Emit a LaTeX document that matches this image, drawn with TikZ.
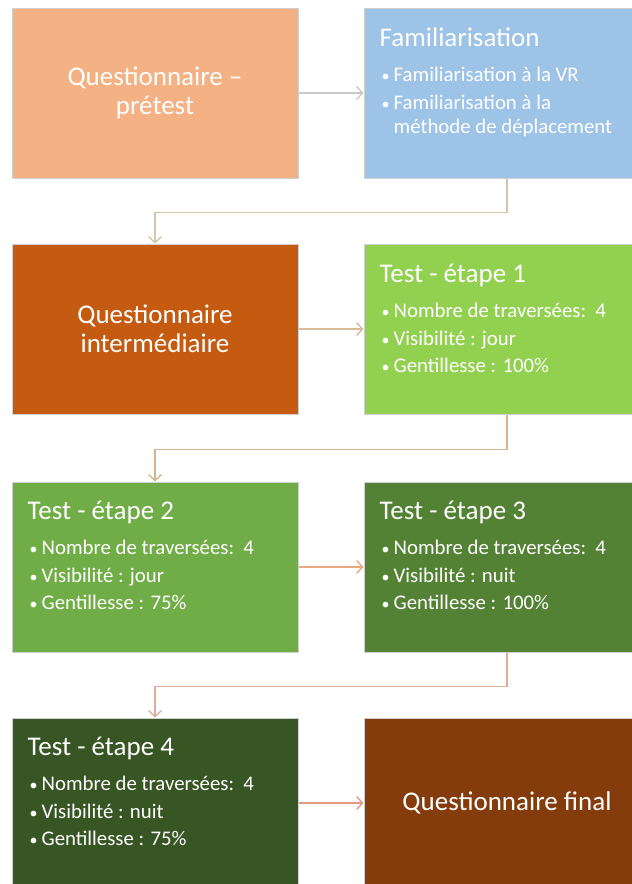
\documentclass[tikz,border=0pt]{standalone}
\usepackage{fontspec}
\setmainfont{Carlito}
\usepackage{xcolor}
\usetikzlibrary{arrows.meta}

\definecolor{boxline}{HTML}{D0D0D0}
\definecolor{peach}{HTML}{F4B183}
\definecolor{skyblue}{HTML}{9DC3E6}
\definecolor{rust}{HTML}{C55A11}
\definecolor{lime}{HTML}{92D050}
\definecolor{leaf}{HTML}{70AD47}
\definecolor{moss}{HTML}{548235}
\definecolor{forest}{HTML}{375623}
\definecolor{umber}{HTML}{843C0C}
\definecolor{arrA}{HTML}{C9C9C9}
\definecolor{arrB}{HTML}{D3C6A9}
\definecolor{arrC}{HTML}{D6BD98}
\definecolor{arrD}{HTML}{D4B48E}
\definecolor{arrE}{HTML}{E9A97E}
\definecolor{arrF}{HTML}{DEAE9A}
\definecolor{arrG}{HTML}{E39A80}

\newcommand{\itm}{{\fontsize{16}{16}\selectfont\textbullet}}

\begin{document}
\begin{tikzpicture}[x=1pt,y=-1pt,
  box/.style={rectangle,draw=boxline,line width=1pt,minimum width=286pt,minimum height=170pt,inner sep=0pt,text=white,align=center,font=\fontsize{27}{29}\selectfont},
  head/.style={text=white,font=\fontsize{27}{30}\selectfont,anchor=base west,inner sep=0pt},
  items/.style={text=white,font=\fontsize{20.8}{23.5}\selectfont,anchor=base west,inner sep=0pt},
  link/.style={line width=1.4pt,-{Straight Barb[length=6pt,width=13pt]}}]
\useasboundingbox (0,0) rectangle (632,884);

% row 1
\node[box,fill=peach] (q1) at (155,93) {Questionnaire –\\prétest};
\node[box,fill=skyblue] (fam) at (507,93) {};
\node[head] (famH) at ([shift={(16,39)}]fam.north west) {Familiarisation};
\node[items] (famL) at ([shift={(18,74)}]fam.north west) {\begin{tabular}[t]{@{}l@{\hspace{4pt}}l@{}}
\itm & Familiarisation à la VR\\[4.5pt]
\itm & Familiarisation à la\\
 & méthode de déplacement
\end{tabular}};

% row 2
\node[box,fill=rust] (qi) at (155,329) {Questionnaire\\intermédiaire};
\node[box,fill=lime] (e1) at (507,329) {};
\node[head] (e1H) at ([shift={(16,39)}]e1.north west) {Test - étape 1};
\node[items] (e1L) at ([shift={(18,74)}]e1.north west) {\begin{tabular}[t]{@{}l@{\hspace{4pt}}l@{}}
\itm & Nombre de traversées:~~4\\[4pt]
\itm & Visibilité : jour\\[4pt]
\itm & Gentillesse : 100\%
\end{tabular}};

% row 3
\node[box,fill=leaf] (e2) at (155,567) {};
\node[head] (e2H) at ([shift={(16,38)}]e2.north west) {Test - étape 2};
\node[items] (e2L) at ([shift={(18,73)}]e2.north west) {\begin{tabular}[t]{@{}l@{\hspace{4pt}}l@{}}
\itm & Nombre de traversées:~~4\\[4pt]
\itm & Visibilité : jour\\[4pt]
\itm & Gentillesse : 75\%
\end{tabular}};
\node[box,fill=moss] (e3) at (507,567) {};
\node[head] (e3H) at ([shift={(16,38)}]e3.north west) {Test - étape 3};
\node[items] (e3L) at ([shift={(18,73)}]e3.north west) {\begin{tabular}[t]{@{}l@{\hspace{4pt}}l@{}}
\itm & Nombre de traversées:~~4\\[4pt]
\itm & Visibilité : nuit\\[4pt]
\itm & Gentillesse : 100\%
\end{tabular}};

% row 4
\node[box,fill=forest] (e4) at (155,803) {};
\node[head] (e4H) at ([shift={(16,38)}]e4.north west) {Test - étape 4};
\node[items] (e4L) at ([shift={(18,73)}]e4.north west) {\begin{tabular}[t]{@{}l@{\hspace{4pt}}l@{}}
\itm & Nombre de traversées:~~4\\[4pt]
\itm & Visibilité : nuit\\[4pt]
\itm & Gentillesse : 75\%
\end{tabular}};
\node[box,fill=umber] (qf) at (507,803) {Questionnaire final};

% links
\draw[link,draw=arrA] (q1) -- (fam);
\draw[link,draw=arrB] (fam.south) -- ++(0,34) -| (qi.north);
\draw[link,draw=arrC] (qi) -- (e1);
\draw[link,draw=arrD] (e1.south) -- ++(0,35) -| (e2.north);
\draw[link,draw=arrE] (e2) -- (e3);
\draw[link,draw=arrF] (e3.south) -- ++(0,34) -| (e4.north);
\draw[link,draw=arrG] (e4) -- (qf);
\end{tikzpicture}
\end{document}
